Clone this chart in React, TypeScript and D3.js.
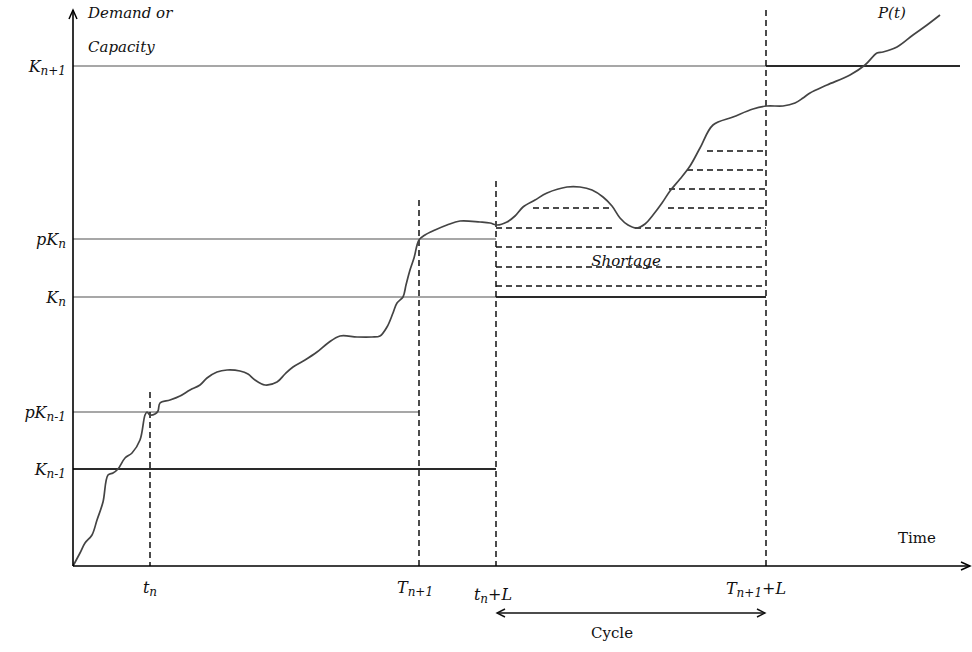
import React from 'react';
import * as d3 from 'd3';

// Demand curve P(t): time vs demand (arbitrary units)
const curveTime = [0, 7, 12, 19, 24, 30, 35, 40, 45, 52, 59, 67, 72, 74, 77, 82, 85, 87, 97, 107, 117, 127, 134, 144, 154, 167, 175, 182, 192, 204, 212, 220, 232, 244, 255, 267, 284, 299, 307, 314, 320, 324, 330, 333, 337, 341, 346, 352, 362, 374, 387, 407, 417, 424, 434, 442, 450, 462, 474, 494, 507, 519, 530, 539, 547, 555, 564, 572, 580, 589, 597, 607, 617, 627, 640, 660, 680, 694, 710, 722, 730, 737, 754, 777, 792, 804, 810, 824, 840, 854, 867];
const curveDemand = [0, 13, 23, 31, 46, 64, 91, 93, 97, 108, 113, 126, 151, 154, 151, 152, 155, 163, 166, 170, 176, 181, 188, 194, 196, 195, 192, 186, 181, 184, 192, 199, 206, 214, 223, 230, 229, 229, 230, 239, 253, 263, 269, 281, 296, 308, 326, 331, 336, 341, 345, 344, 343, 341, 344, 350, 359, 366, 373, 379, 379, 376, 369, 360, 348, 341, 338, 342, 351, 363, 375, 387, 400, 418, 441, 449, 457, 460, 460, 463, 468, 473, 481, 491, 501, 513, 514, 519, 531, 541, 551];

// Capacity levels
const levelMain = ['K', 'pK', 'K', 'pK', 'K'];
const levelSub = ['n-1', 'n-1', 'n', 'n', 'n+1'];
const levelValues = [97, 154, 269, 327, 500];

// Time marks
const timeMain = ['t', 'T', 't', 'T'];
const timeSub = ['n', 'n+1', 'n', 'n+1'];
const timeSuffix = ['', '', '+L', '+L'];
const timeValues = [77, 346, 423, 693];
const timeTops = [174, 366, 385, 556];

// Gray (partial) level lines: [level, from, to]
const grayLines: [number, number, number][] = [
  [500, 0, 693],
  [327, 0, 423],
  [269, 0, 423],
  [154, 0, 346],
];
// Black capacity lines
const blackLines: [number, number, number][] = [
  [97, 0, 423],
  [269, 423, 693],
  [500, 693, 887],
];

// Shortage hatching: [level, from, to]
const shortageSegments: [number, number, number][] = [
  [280, 423, 693],
  [299, 423, 693],
  [319, 423, 693],
  [338, 423, 540],
  [338, 562, 693],
  [358, 460, 537],
  [358, 595, 693],
  [377, 596, 693],
  [396, 614, 693],
  [415, 634, 693],
];

const W = 972;
const H = 652;

export default function App() {
  const x = d3.scaleLinear().domain([0, 900]).range([73, 973]);
  const y = d3.scaleLinear().domain([0, 556]).range([566, 10]);

  const pts: [number, number][] = curveTime.map((t, i) => [t, curveDemand[i]]);
  const line = d3
    .line<[number, number]>()
    .x((d) => x(d[0]))
    .y((d) => y(d[1]))
    .curve(d3.curveCatmullRom.alpha(0.5));

  const serif = "'DejaVu Serif', 'Liberation Serif', serif";
  const x0 = x(0);
  const y0 = y(0);
  const xEnd = x(897);
  const yTop = y(556);
  const cycY = 613;

  const timeLabelDx = [0, -4, -3, -10];
  const timeLabelY = [593, 593, 600, 594];

  return (
    <svg
      width={W}
      height={H}
      style={{ position: 'absolute', left: 0, top: 0, background: '#fff' }}
      fontFamily={serif}
    >
      <rect width={W} height={H} fill="#fff" />

      {/* gray level lines */}
      {grayLines.map(([lv, a, b], i) => (
        <line key={'g' + i} x1={x(a)} x2={x(b)} y1={y(lv)} y2={y(lv)} stroke="#8a8a8a" strokeWidth={1.4} />
      ))}
      {/* black capacity lines */}
      {blackLines.map(([lv, a, b], i) => (
        <line key={'b' + i} x1={x(a)} x2={x(b)} y1={y(lv)} y2={y(lv)} stroke="#2a2a2a" strokeWidth={1.8} />
      ))}

      {/* shortage hatching */}
      {shortageSegments.map(([lv, a, b], i) => (
        <line key={'s' + i} x1={x(a)} x2={x(b)} y1={y(lv)} y2={y(lv)} stroke="#111" strokeWidth={1.5} strokeDasharray="6,4" />
      ))}

      {/* vertical dashed time lines */}
      {timeValues.map((t, i) => (
        <line key={'v' + i} x1={x(t)} x2={x(t)} y1={y(timeTops[i])} y2={y0} stroke="#111" strokeWidth={1.5} strokeDasharray="6,4" />
      ))}

      {/* demand curve */}
      <path d={line(pts) || ''} fill="none" stroke="#444" strokeWidth={1.7} />

      {/* axes */}
      <line x1={x0} x2={x0} y1={y0} y2={yTop} stroke="#000" strokeWidth={1.6} />
      <line x1={x0} x2={xEnd} y1={y0} y2={y0} stroke="#000" strokeWidth={1.6} />
      <path d={`M${x0 - 4},${yTop + 9} L${x0},${yTop} L${x0 + 4},${yTop + 9}`} fill="none" stroke="#000" strokeWidth={1.5} />
      <path d={`M${xEnd - 9},${y0 - 4} L${xEnd},${y0} L${xEnd - 9},${y0 + 4}`} fill="none" stroke="#000" strokeWidth={1.5} />

      {/* axis titles */}
      <text x={88} y={18} fontSize={15} fontStyle="italic" fill="#111">Demand or</text>
      <text x={88} y={52} fontSize={15} fontStyle="italic" fill="#111">Capacity</text>
      <text x={898} y={543} fontSize={15} fill="#111">Time</text>
      <text x={878} y={18} fontSize={15} fontStyle="italic" fill="#111">P(t)</text>

      {/* level labels */}
      {levelValues.map((v, i) => (
        <text key={'l' + i} x={66} y={y(v) + 6} textAnchor="end" fontSize={16} fontStyle="italic" fill="#111">
          {levelMain[i]}
          <tspan fontSize={12} dy={3}>{levelSub[i]}</tspan>
        </text>
      ))}

      {/* time labels */}
      {timeValues.map((t, i) => (
        <text key={'t' + i} x={x(t) + timeLabelDx[i]} y={timeLabelY[i]} textAnchor="middle" fontSize={16} fontStyle="italic" fill="#111">
          {timeMain[i]}
          <tspan fontSize={12} dy={3}>{timeSub[i]}</tspan>
          {timeSuffix[i] ? <tspan fontSize={16} dy={-3}>{timeSuffix[i]}</tspan> : null}
        </text>
      ))}

      {/* cycle arrow */}
      <line x1={x(timeValues[2]) + 1} x2={x(timeValues[3]) - 1} y1={cycY} y2={cycY} stroke="#111" strokeWidth={1.4} />
      <path d={`M${x(timeValues[2]) + 9},${cycY - 4} L${x(timeValues[2]) + 1},${cycY} L${x(timeValues[2]) + 9},${cycY + 4}`} fill="none" stroke="#111" strokeWidth={1.4} />
      <path d={`M${x(timeValues[3]) - 9},${cycY - 4} L${x(timeValues[3]) - 1},${cycY} L${x(timeValues[3]) - 9},${cycY + 4}`} fill="none" stroke="#111" strokeWidth={1.4} />
      <text x={612} y={638} textAnchor="middle" fontSize={15} fill="#111">Cycle</text>

      {/* shortage label */}
      <text x={626} y={266} textAnchor="middle" fontSize={15} fontStyle="italic" fill="#111">Shortage</text>
    </svg>
  );
}
